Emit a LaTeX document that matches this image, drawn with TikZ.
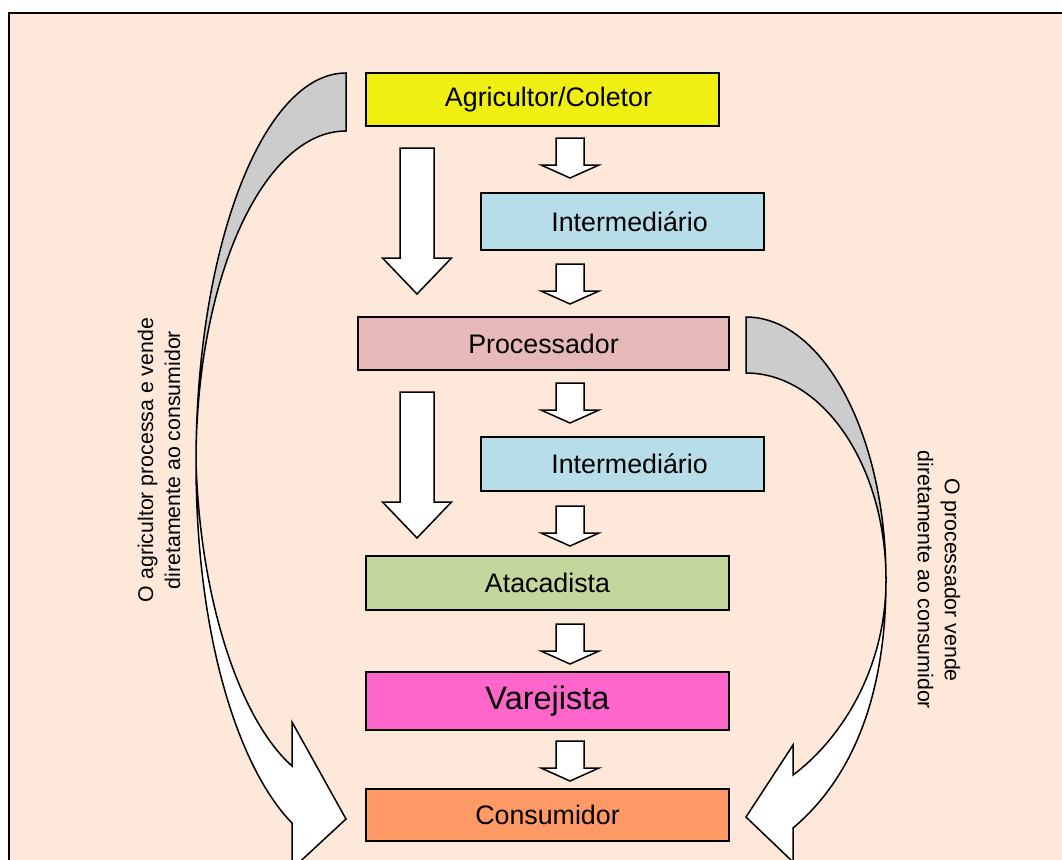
\documentclass[tikz,border=0pt]{standalone}
\usepackage{fontspec}
\setmainfont{Liberation Sans}
\definecolor{bgc}{HTML}{FDE8D9}
\definecolor{cyel}{HTML}{EFEF12}
\definecolor{cblu}{HTML}{B7DEE8}
\definecolor{cpnk}{HTML}{E6B8B7}
\definecolor{cgrn}{HTML}{C3D69B}
\definecolor{cmag}{HTML}{FF66CC}
\definecolor{corg}{HTML}{FF9966}
\definecolor{cgry}{HTML}{CCCCCC}
\begin{document}
\begin{tikzpicture}[x=1pt,y=-1pt,
  box/.style={draw=black, line width=1.5pt, inner sep=0pt, font=\fontsize{26.8}{30}\selectfont},
  blk/.style={draw=black, line width=1.5pt, line join=miter, fill=white},
  sidetxt/.style={align=center, inner sep=0pt, font=\fontsize{21.3}{27}\selectfont},
  smallarr/.pic={\draw[blk] (-14,0) -- (14,0) -- (14,27) -- (29,27) -- (0,40) -- (-29,27) -- (-14,27) -- cycle;},
  bigarr/.pic={\draw[blk] (-17,0) -- (17,0) -- (17,110) -- (34.5,110) -- (0,146) -- (-34.5,110) -- (-17,110) -- cycle;}
]
\useasboundingbox (0,0) rectangle (1062,859);
\fill[white] (0,0) rectangle (1062,859);
\begin{scope}
\clip (0,0) rectangle (1062,859);
\draw[line width=2pt, fill=bgc] (9,13) rectangle (1080,880);

% boxes
\node[box, fill=cyel, minimum width=353pt, minimum height=53pt, text width=353pt, align=center] (agr) at (542.5,99.5) {\hspace*{12pt}\raisebox{-3pt}{Agricultor/Coletor}};
\node[box, fill=cblu, minimum width=283pt, minimum height=57pt, text width=283pt, align=center] (int1) at (622.5,221.5) {\hspace*{14pt}Intermediário};
\node[box, fill=cpnk, minimum width=371pt, minimum height=53pt] (proc) at (543.5,343.5) {Processador};
\node[box, fill=cblu, minimum width=283pt, minimum height=54pt, text width=283pt, align=center] (int2) at (622.5,464) {\hspace*{14pt}Intermediário};
\node[box, fill=cgrn, minimum width=363pt, minimum height=54pt] (atac) at (547.5,583) {Atacadista};
\node[box, fill=cmag, minimum width=363pt, minimum height=58pt, font=\fontsize{32.5}{36}\selectfont] (var) at (547.5,701) {Varejista};
\node[box, fill=corg, minimum width=363pt, minimum height=52pt] (cons) at (547.5,815) {Consumidor};

% small block arrows
\coordinate (a1) at (570,138);
\coordinate (a2) at (570,264);
\coordinate (a3) at (570,383);
\coordinate (a4) at (570,506);
\coordinate (a5) at (570,624);
\coordinate (a6) at (570,741);
\foreach \c in {a1,a2,a3,a4,a5,a6} \pic at (\c) {smallarr};

% big straight arrows
\coordinate (b1) at (417,148);
\coordinate (b2) at (417,392);
\pic at (b1) {bigarr};
\pic at (b2) {bigarr};

% left curved arrow
\draw[blk, fill=cgry] (346,73) .. controls (263,73) and (196,247) .. (196,462)
   .. controls (196,279) and (263,131) .. (346,131) -- cycle;
\draw[blk] (196,462) .. controls (196,640) and (240,770) .. (292,823) -- (292,869) -- (346,819)
   -- (292,722) -- (292,766) .. controls (240,720) and (200,600) .. (196,462) -- cycle;

% right curved arrow
\draw[blk, fill=cgry] (746,317) .. controls (823,317) and (886,435) .. (886,580)
   .. controls (886,466) and (823,373) .. (746,373) -- cycle;
\draw[blk] (886,580) .. controls (886,700) and (850,780) .. (793,828) -- (793,862) -- (746,817)
   -- (793,745) -- (793,775) .. controls (840,740) and (886,670) .. (886,580) -- cycle;

% side texts
\node[sidetxt, rotate=90] (ltxt) at (159,460) {O agricultor processa e vende\\diretamente ao consumidor};
\node[sidetxt, rotate=-90] (rtxt) at (939,580) {O processador vende\\diretamente ao consumidor};
\end{scope}
\end{tikzpicture}
\end{document}
